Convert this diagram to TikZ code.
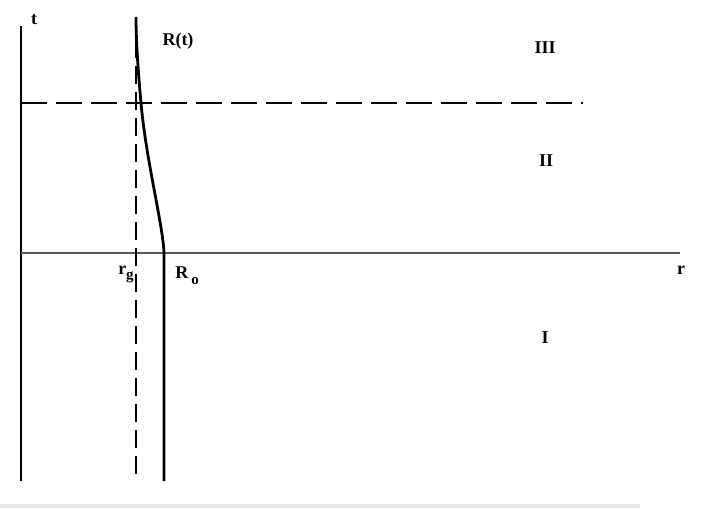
\documentclass[tikz,border=0pt]{standalone}
\usepackage{fontspec}
\setmainfont{Liberation Serif}
\begin{document}
\begin{tikzpicture}[x=1pt,y=-1pt,
  axis/.style={line width=1.2pt},
  lbl/.style={font=\fontsize{18}{21}\selectfont\bfseries, inner sep=0pt},
  sub/.style={font=\fontsize{15}{17}\selectfont\bfseries},
  traj/.style={line width=2.8pt},
  hdash/.style={line width=1.1pt, dash pattern=on 26pt off 9pt},
  vdash/.style={line width=1.7pt, dash pattern=on 18pt off 8pt}]
\useasboundingbox (0,0) rectangle (708,508);
\fill[gray!20] (0,504) rectangle (640,508);
% coordinates
\coordinate (tTop) at (21,26);
\coordinate (tBot) at (21,481);
\coordinate (rL) at (21,253);
\coordinate (rR) at (680,253);
\coordinate (hL) at (21,103);
\coordinate (hR) at (583,103);
\coordinate (vT) at (136,40);
\coordinate (vB) at (136,481);
\coordinate (cBot) at (164,481);
\coordinate (cMid) at (164,253);
\coordinate (cTop) at (136,17);
% axes
\draw[axis] (tTop) -- (tBot);
\draw[axis, gray!70!black] (rL) -- (rR);
\draw[hdash] (hL) -- (hR);
\draw[vdash] (vT) -- (vB);
% trajectory
\draw[traj] (cBot) -- (cMid) .. controls (163,225) and (146,160) .. (141,103) .. controls (138,70) and (136,40) .. (cTop);
% labels
\node[lbl] (t) at (34,20) {t};
\node[lbl] (Rt) at (178,41) {R(t)};
\node[lbl] (III) at (545,48) {III};
\node[lbl] (II) at (546,161) {II};
\node[lbl] (I) at (545,338) {I};
\node[lbl] (r) at (681,270) {r};
\node[lbl, anchor=base] (rg) at (126,274) {r\raisebox{-5pt}{\fontsize{15}{17}\selectfont g}};
\node[lbl, anchor=base] (Ro) at (187,278) {R\,\raisebox{-6pt}{\fontsize{15}{17}\selectfont o}};
\end{tikzpicture}
\end{document}
